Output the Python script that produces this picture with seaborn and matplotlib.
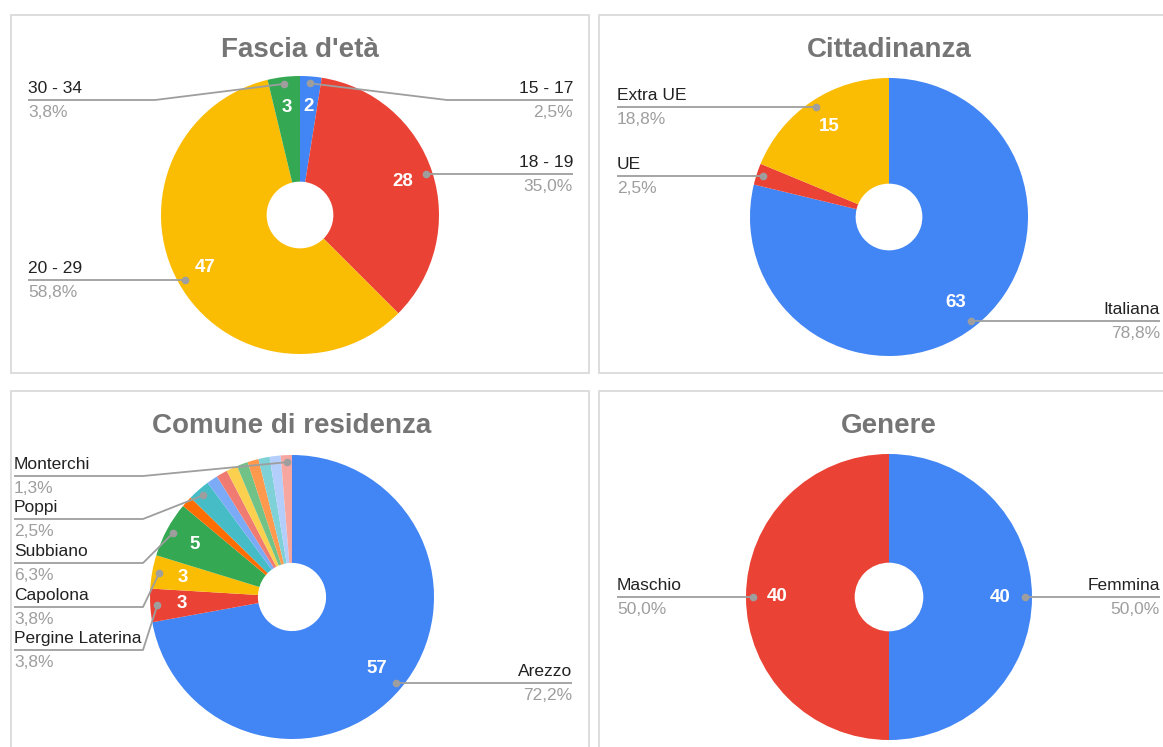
import numpy as np
import matplotlib
matplotlib.use('Agg')
import matplotlib.pyplot as plt
from matplotlib.patches import Rectangle
import seaborn as sns

# ------------------------------------------------------------
# data
# ------------------------------------------------------------
eta_labels = ['15 - 17', '18 - 19', '20 - 29', '30 - 34']
eta_values = [2, 28, 47, 3]

citt_labels = ['Italiana', 'UE', 'Extra UE']
citt_values = [63, 2, 15]

comune_labels = ['Arezzo', 'Pergine Laterina', 'Capolona', 'Subbiano',
                 'Castiglion Fibocchi', 'Poppi', 'Bibbiena',
                 'Civitella in Val di Chiana', 'Cortona', 'Monte San Savino',
                 'Sansepolcro', 'Anghiari', 'Castel Focognano', 'Monterchi']
comune_values = [57, 3, 3, 5, 1, 2, 1, 1, 1, 1, 1, 1, 1, 1]

genere_labels = ['Femmina', 'Maschio']
genere_values = [40, 40]

# google sheets palette
gs_colors = ['#4285F4', '#EA4335', '#FBBC04', '#34A853', '#FF6D01', '#46BDC6',
             '#7BAAF7', '#F07B72', '#FCD04F', '#71C287', '#FF994D', '#7ED1D7',
             '#B3CEFB', '#F7A7A0']

# ------------------------------------------------------------
# layout (pixel coords, y from top)
# ------------------------------------------------------------
W, H = 1163, 747
sns.set_theme(style='white')
plt.rcParams['font.family'] = ['Liberation Sans', 'DejaVu Sans']
palette = sns.color_palette(gs_colors)

fig = plt.figure(figsize=(W / 100, H / 100), dpi=100)
ax = fig.add_axes([0, 0, 1, 1])


def Y(y):
    return H - y


panels = [(11, 15, 589, 373), (599, 15, 1175, 373),
          (11, 391, 589, 760), (599, 391, 1175, 760)]
for x0, y0, x1, y1 in panels:
    ax.add_patch(Rectangle((x0, Y(y1)), x1 - x0, y1 - y0, facecolor='white',
                           edgecolor='#dadada', lw=1.3, zorder=0))

# label specs: (side, text x, line y or None, elbow x or None)
charts = [
    dict(title="Fascia d'età", labels=eta_labels, values=eta_values,
         center=(300, 215), r=139, title_y=50, min_shown=2,
         spec={'15 - 17': ('right', 573, 100, 447),
               '18 - 19': ('right', 573, None, None),
               '20 - 29': ('left', 28, None, None),
               '30 - 34': ('left', 28, 100, 155)}),
    dict(title='Cittadinanza', labels=citt_labels, values=citt_values,
         center=(889, 217), r=139, title_y=50, min_shown=3,
         spec={'Italiana': ('right', 1160, None, None),
               'UE': ('left', 617, None, None),
               'Extra UE': ('left', 617, None, None)}),
    dict(title='Comune di residenza', labels=comune_labels, values=comune_values,
         center=(292, 597), r=142, title_y=426, min_shown=3,
         spec={'Arezzo': ('right', 572, None, None),
               'Pergine Laterina': ('left', 14, 650, 143),
               'Capolona': ('left', 14, 607, 143),
               'Subbiano': ('left', 14, 563, 143),
               'Poppi': ('left', 14, 519, 143),
               'Monterchi': ('left', 14, 476, 143)}),
    dict(title='Genere', labels=genere_labels, values=genere_values,
         center=(889, 597), r=143, title_y=426, min_shown=3,
         spec={'Femmina': ('right', 1160, None, None),
               'Maschio': ('left', 617, None, None)}),
]

line_col = '#9E9E9E'
for ch in charts:
    cx, cy = ch['center']
    r = ch['r']
    vals = ch['values']
    total = sum(vals)
    wedges, _ = ax.pie(vals, colors=palette[:len(vals)], startangle=90,
                       counterclock=False, radius=r, center=(cx, Y(cy)),
                       wedgeprops=dict(width=r * 0.76, edgecolor='none'),
                       frame=True)
    ax.text(cx, Y(ch['title_y']), ch['title'], ha='center', va='center',
            fontsize=20, fontweight='bold', color='#757575')

    for w, lab, v in zip(wedges, ch['labels'], vals):
        mid = np.deg2rad((w.theta1 + w.theta2) / 2)
        if v >= ch['min_shown']:
            ax.text(cx + 0.78 * r * np.cos(mid), Y(cy) + 0.78 * r * np.sin(mid),
                    str(v), ha='center', va='center', fontsize=13.5,
                    fontweight='bold', color='white')
        if lab not in ch['spec']:
            continue
        side, tx, ly, ex = ch['spec'][lab]
        dx = cx + 0.95 * r * np.cos(mid)
        dy = Y(cy) + 0.95 * r * np.sin(mid)
        lyy = dy if ly is None else Y(ly)
        exx = dx if ex is None else ex
        ax.plot([dx, exx, tx], [dy, lyy, lyy], color=line_col, lw=1.3,
                solid_capstyle='butt', zorder=3)
        ax.plot(dx, dy, 'o', color=line_col, ms=4.5, zorder=4)
        ha = 'left' if side == 'left' else 'right'
        pct = f'{v / total * 100:.1f}%'.replace('.', ',')
        ax.text(tx, lyy + 4, lab, ha=ha, va='bottom', fontsize=12.5,
                color='#222222')
        ax.text(tx, lyy - 5, pct, ha=ha, va='top', fontsize=12.5,
                color='#9E9E9E')

ax.set_xlim(0, W)
ax.set_ylim(0, H)
ax.axis('off')

plt.savefig('out.png', dpi=100, facecolor='white')
plt.close()
